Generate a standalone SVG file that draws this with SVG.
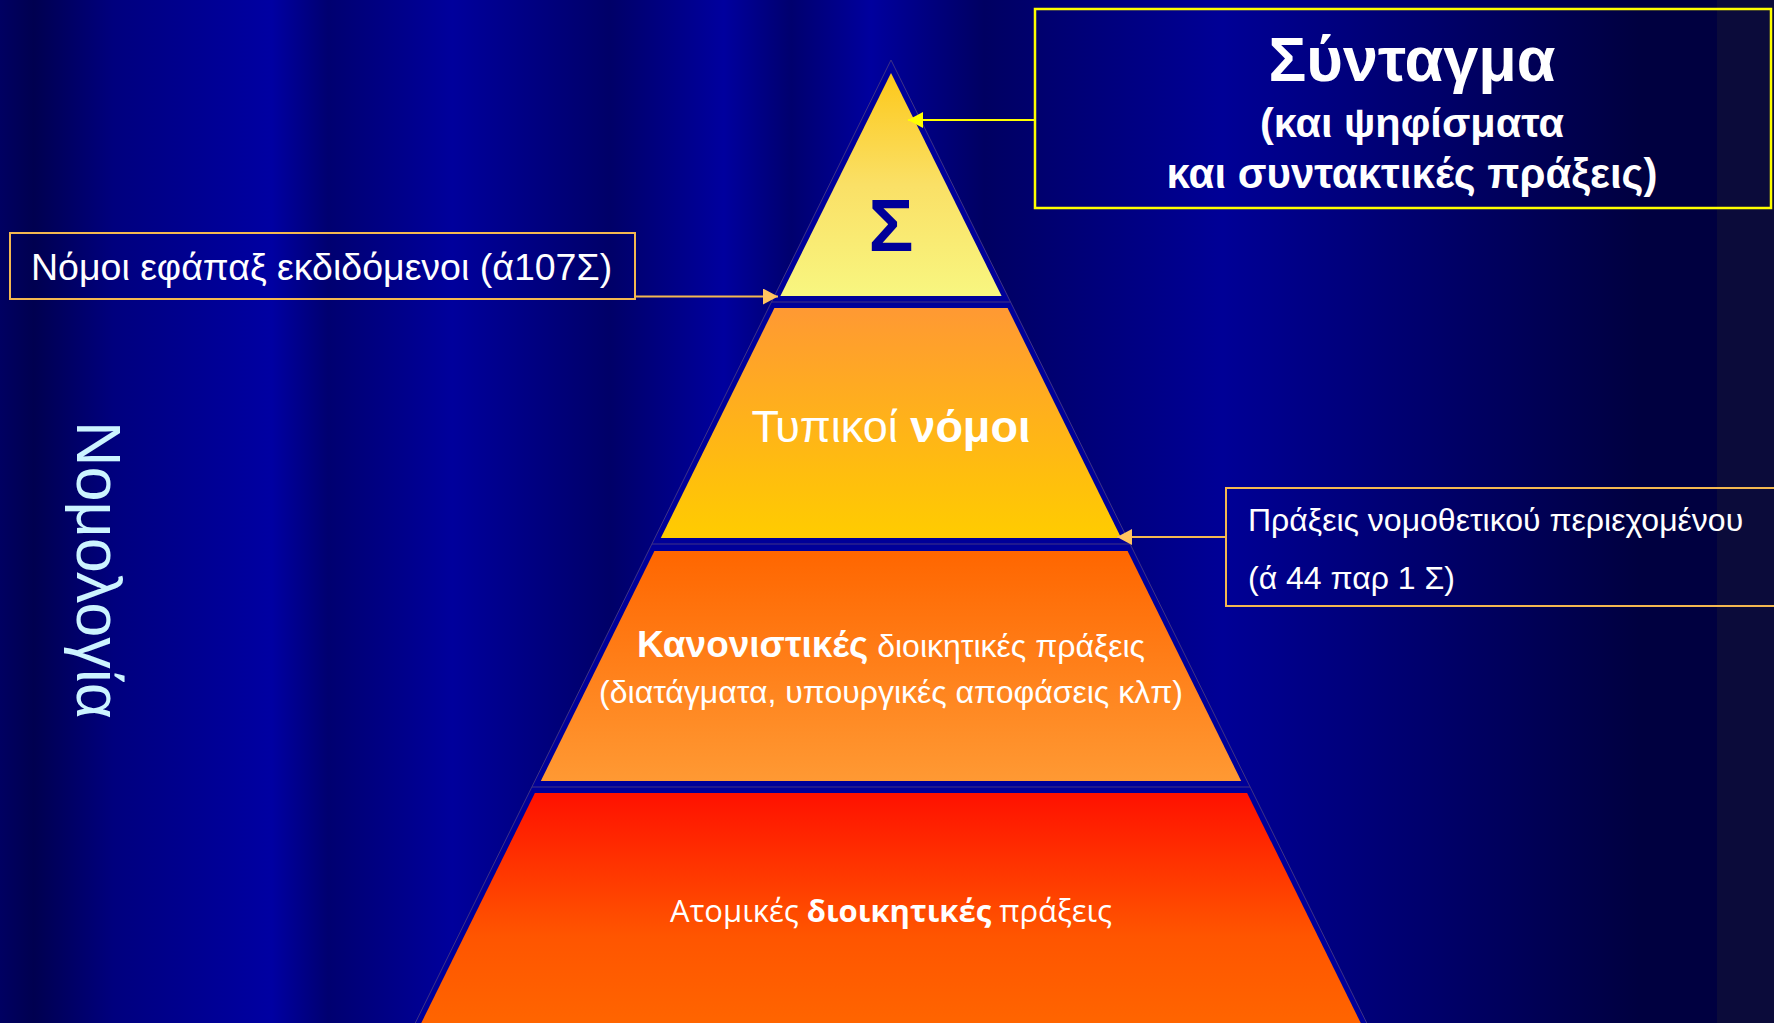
<svg xmlns="http://www.w3.org/2000/svg" width="1774" height="1023" viewBox="0 0 1774 1023">
<style>
.t{font-family:"Liberation Sans",Arial,sans-serif;fill:#ffffff}
.b{font-weight:bold}
.os{font-family:"Open Sans","Noto Sans",sans-serif;fill:#ffffff}
.edge{fill:none;stroke:#3e3386;stroke-width:1}
.box{fill:none;stroke:#f4b850;stroke-width:2}
.conO{stroke:#f4b850;stroke-width:2;fill:none;marker-end:url(#arrO)}
.conY{stroke:#ffff00;stroke-width:2;fill:none;marker-end:url(#arrY)}
</style>
<defs>
<linearGradient id="bg" x1="0" y1="0" x2="1774" y2="0" gradientUnits="userSpaceOnUse">
<stop offset="0" stop-color="#000062"/>
<stop offset="0.019" stop-color="#000050"/>
<stop offset="0.064" stop-color="#00007e"/>
<stop offset="0.153" stop-color="#0000a2"/>
<stop offset="0.185" stop-color="#000070"/>
<stop offset="0.255" stop-color="#00009c"/>
<stop offset="0.344" stop-color="#000068"/>
<stop offset="0.408" stop-color="#00009e"/>
<stop offset="0.446" stop-color="#00006e"/>
<stop offset="0.491" stop-color="#00009e"/>
<stop offset="0.555" stop-color="#000062"/>
<stop offset="0.689" stop-color="#000096"/>
<stop offset="0.924" stop-color="#000040"/>
<stop offset="1" stop-color="#000040"/>
</linearGradient>
<linearGradient id="g1" x1="0" y1="0" x2="0" y2="1">
<stop offset="0" stop-color="#fdc81a"/>
<stop offset="0.5" stop-color="#fae066"/>
<stop offset="1" stop-color="#f8f680"/>
</linearGradient>
<linearGradient id="g2" x1="0" y1="0" x2="0" y2="1">
<stop offset="0" stop-color="#ff9933"/>
<stop offset="1" stop-color="#ffcc00"/>
</linearGradient>
<linearGradient id="g3" x1="0" y1="0" x2="0" y2="1">
<stop offset="0" stop-color="#ff6600"/>
<stop offset="1" stop-color="#ff9933"/>
</linearGradient>
<linearGradient id="g4" x1="0" y1="0" x2="0" y2="1">
<stop offset="0" stop-color="#ff1100"/>
<stop offset="0.6" stop-color="#ff5500"/>
<stop offset="1" stop-color="#ff6600"/>
</linearGradient>
<marker id="arrO" viewBox="0 0 15 16" refX="15" refY="8" markerWidth="15" markerHeight="16" markerUnits="userSpaceOnUse" orient="auto">
<path d="M0,0 L15,8 L0,16 Z" fill="#ffc460"/>
</marker>
<marker id="arrY" viewBox="0 0 15 16" refX="15" refY="8" markerWidth="15" markerHeight="16" markerUnits="userSpaceOnUse" orient="auto">
<path d="M0,0 L15,8 L0,16 Z" fill="#ffff00"/>
</marker>
</defs>

<g id="background">
<rect x="0" y="0" width="1774" height="1023" fill="url(#bg)"/>
<rect x="1717" y="0" width="57" height="1023" fill="#0b0b3a"/>
</g>

<g id="pyramid">
<polygon points="891,60 1370.2,1030 411.8,1030" fill="#000099" stroke="#3e3386" stroke-width="1"/>
<line class="edge" x1="771.5" y1="302" x2="1010.5" y2="302"/>
<line class="edge" x1="651.9" y1="544" x2="1130.1" y2="544"/>
<line class="edge" x1="531.9" y1="787" x2="1250.1" y2="787"/>
</g>

<g id="level-syntagma">
<polygon points="891,73 1001.6,296 780.4,296" fill="url(#g1)"/>
<text class="t b" x="891" y="251" font-size="75" text-anchor="middle" style="fill:#000099">Σ</text>
</g>

<g id="level-typikoi-nomoi">
<polygon points="774.4,308 1007.6,308 1121.2,538 660.8,538" fill="url(#g2)"/>
<text class="t" x="891" y="442" font-size="45" text-anchor="middle">Τυπικοί <tspan class="b">νόμοι</tspan></text>
</g>

<g id="level-kanonistikes">
<polygon points="654.4,551 1127.6,551 1241.2,781 540.8,781" fill="url(#g3)"/>
<text class="t" x="891" y="657" font-size="32" text-anchor="middle"><tspan class="b" font-size="37">Κανονιστικές</tspan> διοικητικές πράξεις</text>
<text class="t" x="891" y="703" font-size="32" text-anchor="middle">(διατάγματα, υπουργικές αποφάσεις κλπ)</text>
</g>

<g id="level-atomikes">
<polygon points="534.9,793 1247.1,793 1364.2,1030 417.8,1030" fill="url(#g4)"/>
<text class="os" x="891" y="922" font-size="31" text-anchor="middle">Ατομικές <tspan font-weight="bold">διοικητικές</tspan> πράξεις</text>
</g>

<g id="box-syntagma">
<rect x="1035" y="9" width="736" height="199" fill="none" stroke="#ffff00" stroke-width="2.5"/>
<text class="t b" x="1412" y="81" font-size="63" text-anchor="middle">Σύνταγμα</text>
<text class="t b" x="1412" y="137" font-size="41.5" text-anchor="middle">(και ψηφίσματα</text>
<text class="t b" x="1412" y="188" font-size="42" text-anchor="middle">και συντακτικές πράξεις)</text>
</g>

<g id="box-efapax">
<rect class="box" x="10" y="233" width="625" height="66"/>
<text class="t" x="31" y="280" font-size="37.5">Νόμοι εφάπαξ εκδιδόμενοι (ά107Σ)</text>
</g>

<g id="box-nomothetikou">
<rect class="box" x="1226" y="488" width="560" height="118"/>
<text class="t" x="1248" y="531" font-size="32">Πράξεις νομοθετικού περιεχομένου</text>
<text class="t" x="1248" y="589" font-size="32">(ά 44 παρ 1 Σ)</text>
</g>

<g id="label-nomologia">
<text transform="translate(77,421) rotate(90)" font-family="Liberation Sans, Arial, sans-serif" font-size="63" fill="#ccf4ff">Νομολογία</text>
</g>

<g id="connectors">
<path class="conY" d="M1035,120 L908,120"/>
<path class="conO" d="M635,296.5 L778,296.5"/>
<path class="conO" d="M1226,537 L1117,537"/>
</g>
</svg>
